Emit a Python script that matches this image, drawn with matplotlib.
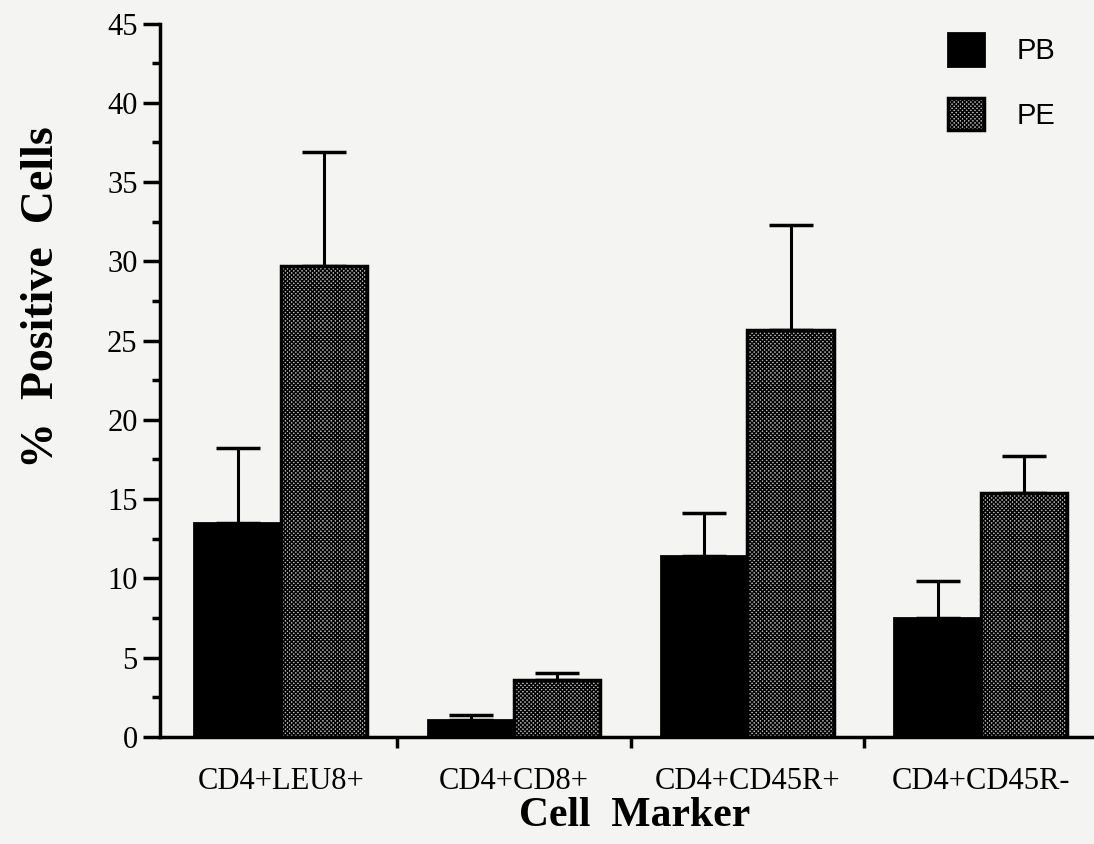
import numpy as np
import matplotlib
matplotlib.use('Agg')
import matplotlib.pyplot as plt

# data
markers = ['CD4+LEU8+', 'CD4+CD8+', 'CD4+CD45R+', 'CD4+CD45R-']
pb_mean = [13.5, 1.05, 11.4, 7.5]
pb_err = [4.7, 0.35, 2.7, 2.35]
pe_mean = [29.7, 3.6, 25.7, 15.4]
pe_err = [7.2, 0.4, 6.6, 2.3]

bg = '#f4f5f2'
plt.rcParams['hatch.linewidth'] = 1.0
serif = ['Liberation Serif', 'DejaVu Serif']

fig = plt.figure(figsize=(10.94, 8.44), dpi=100, facecolor=bg)
ax = fig.add_axes([0.146, 0.127, 0.854, 0.845], facecolor=bg)

x = np.arange(len(markers))
w = 0.37

ax.errorbar(x - w/2, pb_mean, yerr=[np.zeros(4), pb_err], fmt='none',
            ecolor='black', elinewidth=2.2, capsize=16, capthick=2.5, zorder=1)
ax.errorbar(x + w/2, pe_mean, yerr=[np.zeros(4), pe_err], fmt='none',
            ecolor='black', elinewidth=2.2, capsize=16, capthick=2.5, zorder=1)
ax.bar(x - w/2, pb_mean, w, color='black', edgecolor='black', linewidth=2,
       label='PB', zorder=2)
ax.bar(x + w/2, pe_mean, w, color='#bdbdbd', edgecolor='black', linewidth=2.5,
       hatch='xxxxxxxx', label='PE', zorder=2)

ax.set_xlim(-0.519, 3.485)
ax.set_ylim(0, 45)

for s in ['top', 'right']:
    ax.spines[s].set_visible(False)
ax.spines['left'].set_linewidth(2.5)
ax.spines['bottom'].set_linewidth(2.5)

ax.set_yticks(np.arange(0, 46, 5))
ax.set_yticks(np.arange(2.5, 45, 5), minor=True)
ax.tick_params(axis='y', which='major', length=12, width=2.5, labelsize=22, pad=4)
ax.tick_params(axis='y', which='minor', length=6, width=2.5)

# group boundary ticks on x, labels at group centres
ax.set_xticks([0.5, 1.5, 2.5])
ax.set_xticklabels([])
ax.tick_params(axis='x', which='major', length=8, width=2.5)
ax.set_xticks(x, minor=True)
ax.set_xticklabels(markers, minor=True)
ax.tick_params(axis='x', which='minor', length=0, labelsize=22, pad=22)

for lab in ax.get_yticklabels() + ax.get_xticklabels(minor=True):
    lab.set_family(serif)

ax.set_ylabel('%  Positive  Cells', family=serif, fontweight='bold', fontsize=33)
ax.yaxis.set_label_coords(-0.104, 0.616)
ax.set_xlabel('Cell  Marker', family=serif, fontweight='bold', fontsize=30)
ax.xaxis.set_label_coords(0.508, -0.085)

leg = ax.legend(loc='upper left', bbox_to_anchor=(0.8437, 0.987), frameon=False,
                fontsize=21, handlelength=1.25, handleheight=1.35, labelspacing=1.1,
                handletextpad=1.1, borderaxespad=0, borderpad=0)
for t in leg.get_texts():
    t.set_family(['Liberation Sans', 'DejaVu Sans'])

fig.savefig('out.png', dpi=100, facecolor=bg)
